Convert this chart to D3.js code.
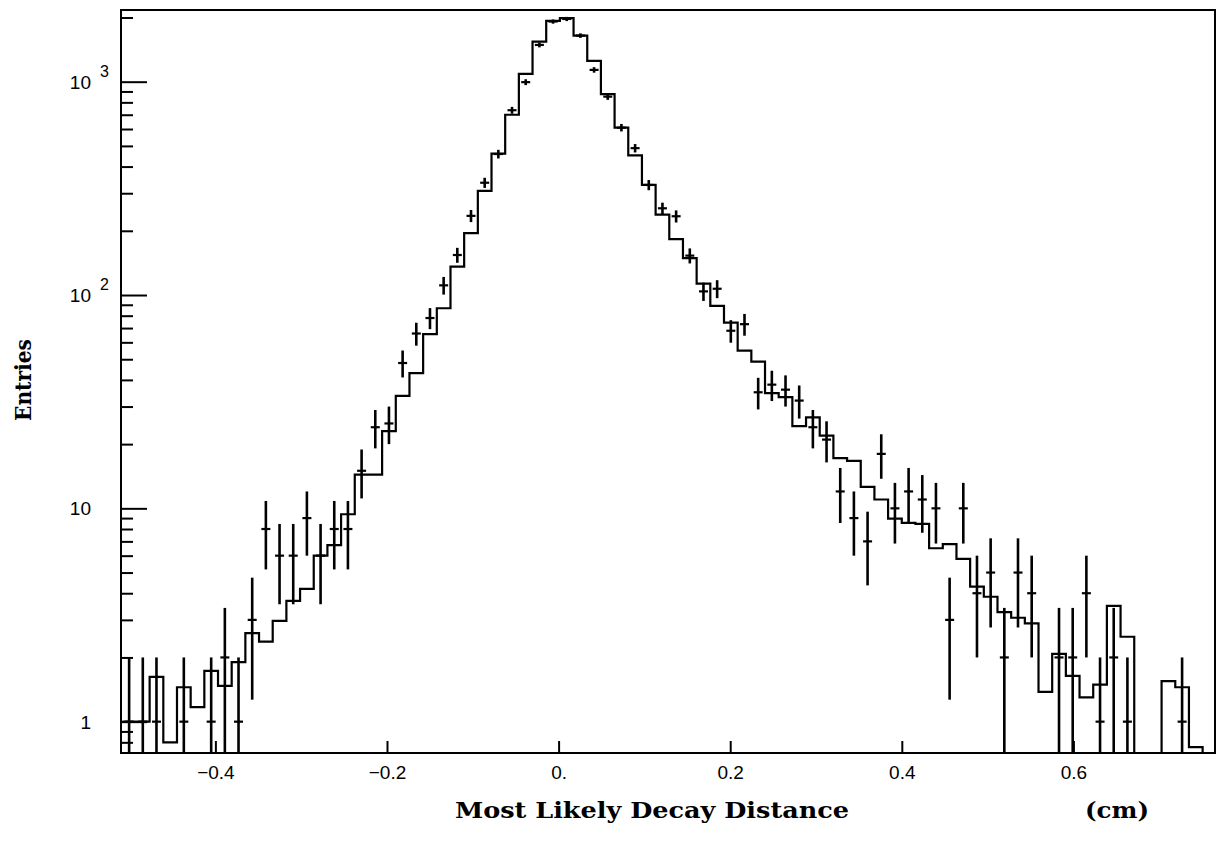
<!DOCTYPE html>
<html>
<head>
<meta charset="utf-8">
<script src="https://cdn.jsdelivr.net/npm/d3@7"></script>
<style>
	body { margin: 0; background: #fff; }
	svg { display: block; }
</style>
</head>
<body>
<svg width="1218" height="843"></svg>
<script>
// Histogram binning
const binLow = -0.5085,
	binHigh = 0.7665,
	nBins = 80;

// Simulated distribution (solid step line), one value per bin
const mcCounts = [
	1.0, 1.0, 1.62, 0.8, 1.45, 1.17, 1.73, 1.47, 1.9, 2.6,
	2.37, 2.97, 3.68, 4.19, 6.0, 6.73, 9.38, 14.4, 14.4, 23,
	33.7, 43, 65.5, 86.7, 136, 195, 308, 460, 700, 1088,
	1541, 1928, 1985, 1645, 1253, 874, 609, 451, 328, 238,
	183, 149, 113, 88.9, 74.3, 54.9, 48.7, 34.7, 33.2, 24.3,
	26.7, 21.9, 17.2, 16.7, 12.6, 11.0, 8.95, 8.55, 8.45, 6.5,
	6.8, 5.8, 4.3, 3.85, 3.26, 3.07, 2.89, 1.38, 2.08, 1.64,
	1.3, 1.49, 3.49, 2.5, 0, 0, 1.55, 1.45, 0.76, 0,
];

// Measured entries (points with sqrt(N) error bars), 0 = empty bin
const dataCounts = [
	1, 1, 1, 0, 1, 0, 1, 2, 1, 3,
	8, 6, 6, 9, 6, 8, 8, 15, 24, 25,
	48, 66, 78, 111, 154, 235, 336, 458, 735, 995,
	1487, 1914, 1968, 1645, 1136, 851, 609, 488, 328, 255,
	234, 153, 104, 107, 68, 73, 35, 38, 36, 32,
	24, 21, 12, 9, 7, 18, 10, 12, 11, 10,
	3, 10, 4, 5, 2, 5, 4, 0, 2, 2,
	4, 1, 2, 1, 0, 0, 0, 1, 0, 0,
];

// Axis ticks and labels
const xTicks = [-0.4, -0.2, 0, 0.2, 0.4, 0.6];
const xTickLabels = ["\u22120.4", "\u22120.2", "0.", "0.2", "0.4", "0.6"];
const yDecades = [1, 10, 100, 1000];
const yDecadeBase = ["1", "10", "10", "10"];
const yDecadeExp = ["", "", "2", "3"];
const xMin = -0.51,
	xMax = 0.765;
const yMin = 0.713,
	yMax = 2168;

const xTitle = "Most Likely Decay Distance";
const xUnit = "(cm)";
const yTitle = "Entries";

// Plot frame
const frame = { left: 121, right: 1215, top: 10, bottom: 753 };
const binWidth = (binHigh - binLow) / nBins;

const svg = d3.select("svg");

const x = d3.scaleLinear().domain([xMin, xMax]).range([frame.left, frame.right]);
const y = d3.scaleLog().domain([yMin, yMax]).range([frame.bottom, frame.top]);

svg.append("defs")
	.append("clipPath")
	.attr("id", "plot-clip")
	.append("rect")
	.attr("x", frame.left)
	.attr("y", frame.top)
	.attr("width", frame.right - frame.left)
	.attr("height", frame.bottom - frame.top);

// X axis: ticks pointing inward
const xAxis = svg
	.append("g")
	.attr("transform", `translate(0,${frame.bottom})`)
	.call(
		d3.axisBottom(x)
			.tickValues(xTicks)
			.tickSizeInner(-12)
			.tickSizeOuter(0)
			.tickPadding(13)
			.tickFormat((d, i) => xTickLabels[i])
	);
xAxis.select(".domain").remove();
xAxis.selectAll("line").attr("stroke", "#000").attr("stroke-width", 2);
xAxis.selectAll("text")
	.attr("fill", "#000")
	.style("font-family", "'Liberation Sans', Arial, sans-serif")
	.style("font-size", "19px");

// Y axis: minor ticks 2..9 per decade, long ticks at decades
const yMinor = [];
[0.1, 1, 10, 100, 1000].forEach((dec) => {
	for (let m = 2; m <= 9; m++) {
		const v = m * dec;
		if (v > yMin && v < yMax) yMinor.push(v);
	}
});

const yMinorAxis = svg
	.append("g")
	.attr("transform", `translate(${frame.left},0)`)
	.call(d3.axisLeft(y).tickValues(yMinor).tickSizeInner(-12).tickSizeOuter(0).tickFormat(""));
yMinorAxis.select(".domain").remove();
yMinorAxis.selectAll("line").attr("stroke", "#000").attr("stroke-width", 2);

const yMajorAxis = svg
	.append("g")
	.attr("transform", `translate(${frame.left},0)`)
	.call(d3.axisLeft(y).tickValues(yDecades).tickSizeInner(-26).tickSizeOuter(0).tickFormat(""));
yMajorAxis.select(".domain").remove();
yMajorAxis.selectAll("line").attr("stroke", "#000").attr("stroke-width", 2);

// Decade labels: base with superscript exponent
const yLabels = svg
	.selectAll(".ylab")
	.data(yDecades)
	.join("g")
	.attr("class", "ylab")
	.style("font-family", "'Liberation Sans', Arial, sans-serif")
	.attr("fill", "#000");
yLabels
	.append("text")
	.attr("x", 91)
	.attr("y", (d) => y(d) + 7)
	.attr("text-anchor", "end")
	.style("font-size", "19px")
	.text((d, i) => yDecadeBase[i]);
yLabels
	.append("text")
	.attr("x", 100)
	.attr("y", (d) => y(d) - 5)
	.style("font-size", "16px")
	.text((d, i) => yDecadeExp[i]);

// Frame
svg.append("rect")
	.attr("x", frame.left)
	.attr("y", frame.top)
	.attr("width", frame.right - frame.left)
	.attr("height", frame.bottom - frame.top)
	.attr("fill", "none")
	.attr("stroke", "#000")
	.attr("stroke-width", 2);

const plot = svg.append("g").attr("clip-path", "url(#plot-clip)");

// Step histogram
const mcPoints = [];
mcCounts.forEach((v, k) => {
	const x0 = binLow + k * binWidth;
	mcPoints.push([x0, v], [x0 + binWidth, v]);
});

const line = d3
	.line()
	.x((d) => x(d[0]))
	.y((d) => y(Math.max(d[1], yMin)));

plot.append("path")
	.datum(mcPoints)
	.attr("d", line)
	.attr("fill", "none")
	.attr("stroke", "#000")
	.attr("stroke-width", 2.2)
	.attr("stroke-linejoin", "miter");

// Data points with error bars
const points = dataCounts
	.map((n, k) => ({ n: n, c: binLow + (k + 0.5) * binWidth }))
	.filter((d) => d.n > 0);

const pts = plot.selectAll(".pt").data(points).join("g").attr("class", "pt");

pts.append("line")
	.attr("x1", (d) => x(d.c))
	.attr("x2", (d) => x(d.c))
	.attr("y1", (d) => y(d.n + Math.sqrt(d.n)))
	.attr("y2", (d) => y(Math.max(d.n - Math.sqrt(d.n), yMin)))
	.attr("stroke", "#000")
	.attr("stroke-width", 2.6);

pts.append("line")
	.attr("x1", (d) => x(d.c) - 4.5)
	.attr("x2", (d) => x(d.c) + 4.5)
	.attr("y1", (d) => y(d.n))
	.attr("y2", (d) => y(d.n))
	.attr("stroke", "#000")
	.attr("stroke-width", 2.2);

// Axis titles
svg.append("text")
	.attr("x", 455)
	.attr("y", 818)
	.attr("textLength", 394)
	.attr("lengthAdjust", "spacingAndGlyphs")
	.style("font-family", "'DejaVu Serif', 'Liberation Serif', serif")
	.style("font-weight", "bold")
	.style("font-size", "22px")
	.text(xTitle);

svg.append("text")
	.attr("x", 1085)
	.attr("y", 818)
	.attr("textLength", 64)
	.attr("lengthAdjust", "spacingAndGlyphs")
	.style("font-family", "'DejaVu Serif', 'Liberation Serif', serif")
	.style("font-weight", "bold")
	.style("font-size", "22px")
	.text(xUnit);

svg.append("text")
	.attr("transform", "translate(31,380) rotate(-90)")
	.attr("text-anchor", "middle")
	.attr("textLength", 82)
	.attr("lengthAdjust", "spacingAndGlyphs")
	.style("font-family", "'DejaVu Serif', 'Liberation Serif', serif")
	.style("font-weight", "bold")
	.style("font-size", "22px")
	.text(yTitle);
</script>
</body>
</html>
